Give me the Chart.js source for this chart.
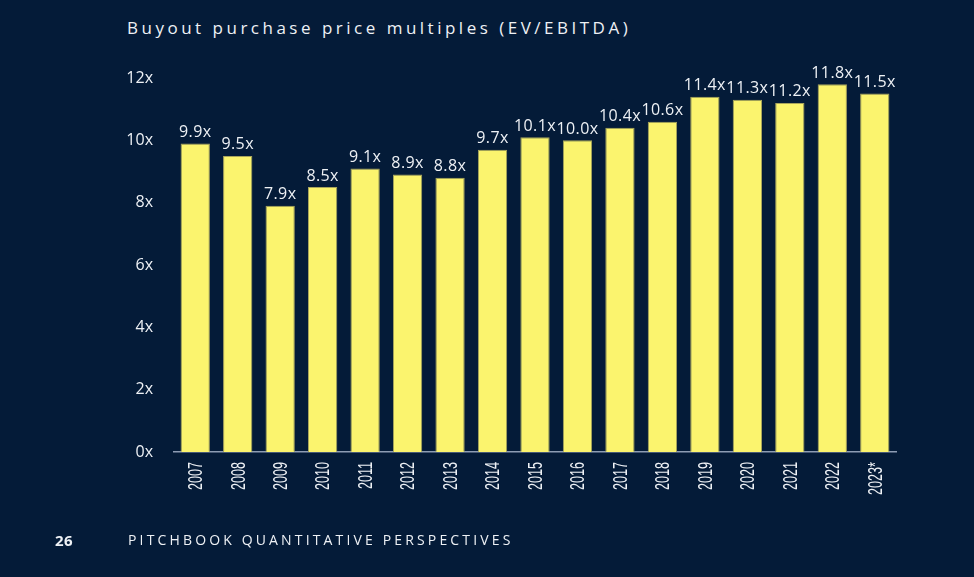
<!DOCTYPE html>
<html>
<head>
<meta charset="utf-8">
<script src="https://cdn.jsdelivr.net/npm/chart.js@4"></script>
<style>
  html, body { margin: 0; padding: 0; background: #041b38; }
  body { width: 974px; height: 577px; position: relative; overflow: hidden; font-family: "Open Sans", "Noto Sans", sans-serif; }
  #title { position: absolute; left: 127px; top: 16px; color: #eef1f5; font-size: 17px; letter-spacing: 3.5px; white-space: nowrap; }
  #page { position: absolute; left: 55px; top: 530px; color: #eef1f5; font-size: 15px; font-weight: bold; letter-spacing: 0.5px; }
  #foot { position: absolute; left: 128px; top: 530px; color: #eef1f5; font-size: 14px; letter-spacing: 3.15px; white-space: nowrap; }
  #wrap { position: absolute; left: 0; top: 0; width: 974px; height: 577px; }
</style>
</head>
<body>
<div id="title">Buyout purchase price multiples (EV/EBITDA)</div>
<div id="wrap"><canvas id="c"></canvas></div>
<div id="page">26</div>
<div id="foot">PITCHBOOK QUANTITATIVE PERSPECTIVES</div>
<script>
const years = ["2007","2008","2009","2010","2011","2012","2013","2014","2015","2016","2017","2018","2019","2020","2021","2022","2023*"];
const multiples = [9.9, 9.5, 7.9, 8.5, 9.1, 8.9, 8.8, 9.7, 10.1, 10.0, 10.4, 10.6, 11.4, 11.3, 11.2, 11.8, 11.5];
const yTicks = [0, 2, 4, 6, 8, 10, 12];

const valueLabels = {
  id: 'valueLabels',
  afterDatasetsDraw(chart) {
    const ctx = chart.ctx;
    const meta = chart.getDatasetMeta(0);
    ctx.save();
    ctx.fillStyle = '#eef1f5';
    ctx.font = '16px "Open Sans", "Noto Sans", sans-serif';
    if ('letterSpacing' in ctx) ctx.letterSpacing = '0.4px';
    ctx.textAlign = 'center';
    ctx.textBaseline = 'bottom';
    meta.data.forEach((bar, i) => {
      ctx.fillText(multiples[i].toFixed(1) + 'x', bar.x, bar.y - 3);
    });
    ctx.restore();
  }
};

// condensed, vertical category labels placed at the x scale's tick positions
const condensedXLabels = {
  id: 'condensedXLabels',
  afterDraw(chart) {
    const xs = chart.scales.x;
    const ctx = chart.ctx;
    const labels = chart.data.labels;
    ctx.save();
    ctx.fillStyle = '#eef1f5';
    ctx.font = '21px "Liberation Sans", Arial, sans-serif';
    ctx.textAlign = 'right';
    ctx.textBaseline = 'middle';
    xs.ticks.forEach((t, i) => {
      const x = xs.getPixelForTick(i);
      ctx.save();
      ctx.translate(x + 1, xs.top + 10);
      ctx.rotate(-Math.PI / 2);
      ctx.scale(0.6, 1);
      ctx.fillText(labels[i], 0, 0);
      ctx.restore();
    });
    ctx.restore();
  }
};

new Chart(document.getElementById('c'), {
  type: 'bar',
  data: {
    labels: years,
    datasets: [{
      data: multiples,
      backgroundColor: '#fbf46e',
      borderColor: '#a9a55c',
      borderWidth: 1,
      barPercentage: 0.69,
      categoryPercentage: 1.0
    }]
  },
  options: {
    responsive: true,
    maintainAspectRatio: false,
    animation: false,
    devicePixelRatio: 1,
    layout: { padding: { left: 0, right: 78, top: 78, bottom: 62 } },
    plugins: { legend: { display: false }, tooltip: { enabled: false }, title: { display: false } },
    scales: {
      x: {
        grid: { display: false, drawTicks: false },
        border: { display: true, color: '#8d9cb3', width: 1.5 },
        ticks: { display: false, autoSkip: false },
        afterFit(scale) { scale.height = 63; }
      },
      y: {
        min: 0, max: 12,
        afterBuildTicks(scale) { scale.ticks = yTicks.map(v => ({ value: v })); },
        grid: { display: false, drawTicks: false },
        border: { display: false },
        ticks: {
          color: '#eef1f5',
          font: { family: '"Open Sans", "Noto Sans", sans-serif', size: 16 },
          padding: 21,
          callback: (v) => v + 'x'
        },
        afterFit(scale) { scale.width = 174; }
      }
    }
  },
  plugins: [valueLabels, condensedXLabels]
});
</script>
</body>
</html>
